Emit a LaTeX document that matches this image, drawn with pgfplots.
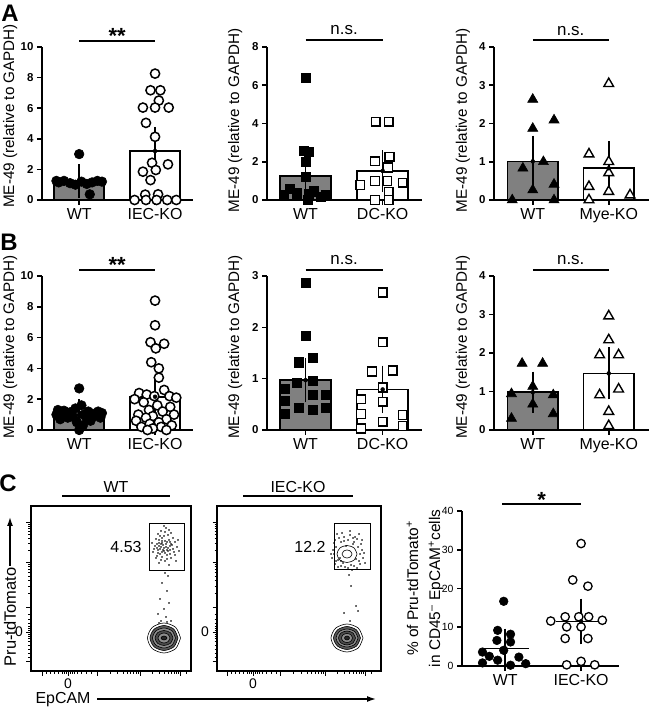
\documentclass[border=0pt]{standalone}
\usepackage{fontspec}
\setmainfont{Liberation Sans}
\usepackage{pgfplots}
\pgfplotsset{compat=1.18}
\usetikzlibrary{arrows.meta}
\newcommand{\fs}[1]{\fontsize{#1}{#1}\selectfont}

\pgfplotsset{
 prism/.style={scale only axis, clip=false, anchor=south west,
  axis x line*=bottom, axis y line*=left, axis line style={-, line width=1.6bp},
  ymin=0, xtick={0,1}, tick align=outside, major tick length=5bp,
  tick style={black, line width=1.6bp},
  /pgf/number format/assume math mode=true,
  yticklabel style={font=\fs{11.5}\bfseries},
  xticklabel style={font=\fs{16}},
  ylabel style={font=\fs{15.3}, anchor=center},
  ylabel={ME-49 (relative to GAPDH)},
 },
 sem/.style={only marks, mark=none, forget plot, error bars/.cd, y dir=both, y explicit,
   error bar style={draw=black, line width=1.6bp},
   error mark options={draw=black, line width=1.6bp, mark size=#1}},
 wtbar/.style={ybar, bar width=0.66, fill=gray, draw=black, line width=1.6bp, bar shift=0pt, forget plot},
 kobar/.style={ybar, bar width=0.66, fill=white, draw=black, line width=1.6bp, bar shift=0pt, forget plot},
 fcirc/.style={only marks, mark=*, mark size=4.8bp, mark options={fill=black, draw=black, line width=0.6bp}, forget plot},
 ocirc/.style={only marks, mark=*, mark size=4.6bp, mark options={fill=white, draw=black, line width=1.5bp}, forget plot},
 fsq/.style={only marks, mark=square*, mark size=4.6bp, mark options={fill=black, draw=black, line width=0.6bp}, forget plot},
 osq/.style={only marks, mark=square*, mark size=4.4bp, mark options={fill=white, draw=black, line width=1.5bp}, forget plot},
 ftri/.style={only marks, mark=triangle*, mark size=5.8bp, mark options={fill=black, draw=black, line width=0.6bp}, forget plot},
 otri/.style={only marks, mark=triangle*, mark size=5.6bp, mark options={fill=white, draw=black, line width=1.4bp}, forget plot},
 sig/.style={black, line width=1.6bp, forget plot},
 flow/.style={scale only axis, clip=false, anchor=south west, axis line style={line width=1.3bp},
  tick align=outside, tick pos=left, major tick length=4.5bp, minor tick length=2.5bp,
  tick style={black, line width=0.9bp}, minor tick style={line width=0.6bp},
  ymin=0, ymax=165, height=165bp, ticklabel style={font=\fs{14}},
  /pgf/number format/assume math mode=true,
  ytick={10,39,64,109,149}, yticklabels={,0,,,},
  minor ytick={14,18,22,26,30,33,35,37,41,43,45,48,52,57,78,85,91,95,99,102,105,107,121,128,133,137,140,143,145,147}},
 ring/.style={black, line width=0.6bp, smooth, forget plot},
 dots/.style={only marks, mark=*, mark size=0.5bp, black, forget plot},
 gate/.style={black, line width=0.8bp, sharp plot, forget plot},
}

\begin{document}
\begin{tikzpicture}
\useasboundingbox (0,0) rectangle (650bp,709bp);

% panel letters
\node[font=\fs{24}\bfseries] at (10bp,696bp) {A};
\node[font=\fs{24}\bfseries] at (9bp,467bp) {B};
\node[font=\fs{24}\bfseries] at (8bp,226bp) {C};

% ---------------- A1
\begin{axis}[prism, at={(42bp,509bp)}, width=151bp, height=153bp, xmin=-0.49, xmax=1.5, ymax=10,
  ytick={0,2,4,6,8,10}, xticklabels={WT,IEC-KO}, ylabel style={at={(axis description cs:-0.21,0.55)}}]
\addplot[wtbar] coordinates {(0,1.25)};
\addplot[kobar] coordinates {(1,3.2)};
\addplot[fcirc] coordinates {(0,3.0)(0.14,0.37)(-0.3,1.25)(-0.27,1.15)(-0.2,1.25)(-0.12,1.1)(-0.05,1.0)(0.03,1.2)(0.1,1.05)(0.17,1.15)(0.24,1.25)(0.3,1.2)};
\addplot[ocirc] coordinates {(1.0,8.26)(0.94,7.17)(1.07,7.17)(1.05,6.5)(0.84,6.04)(1.0,6.04)(1.18,6.04)(0.88,5.04)(1.0,4.13)(0.96,2.43)(1.17,2.33)(0.84,1.85)(1.01,1.96)(0.94,1.3)(0.87,0.35)(1.04,0.37)(0.73,0)(0.88,0)(1.02,0)(1.16,0)(1.28,0)};
\addplot[sem=14bp] coordinates {(0,1.25) +- (0,0.18) (1,3.2) +- (0,0.66)};
\addplot[sig] coordinates {(0,10.4)(1,10.4)};
\node[font=\fs{22}\bfseries, anchor=base] at (axis cs:0.5,10.4) [yshift=-3bp] {**};
\end{axis}

% ---------------- A2
\begin{axis}[prism, at={(267bp,509bp)}, width=155bp, height=153bp, xmin=-0.5, xmax=1.51, ymax=8,
  ytick={0,2,4,6,8}, xticklabels={WT,DC-KO}, ylabel style={at={(axis description cs:-0.206,0.52)}}]
\addplot[wtbar] coordinates {(0,1.25)};
\addplot[kobar] coordinates {(1,1.52)};
\addplot[fsq] coordinates {(0,6.4)(-0.02,2.56)(0.04,2.5)(0,2.0)(0,1.2)(-0.2,0.6)(-0.28,0.26)(-0.11,0.35)(0.04,0.3)(0.03,0)(0.2,0.17)(0.26,0.26)(0.11,0.45)};
\addplot[osq] coordinates {(0.91,4.09)(1.08,4.09)(0.9,2.03)(1.09,2.26)(1.07,1.7)(0.9,1.0)(1.06,1.0)(0.71,0.78)(1.26,0.9)(1.08,0.43)(0.9,0)(1.08,0)};
\addplot[sem=12.5bp] coordinates {(0,1.25) +- (0,0.5) (1,1.52) +- (0,0.43)};
\addplot[sig] coordinates {(0,8.37)(1,8.37)};
\node[font=\fs{17}, anchor=base] at (axis cs:0.5,8.37) [yshift=5bp] {n.s.};
\end{axis}

% ---------------- A3
\begin{axis}[prism, at={(494bp,509bp)}, width=155bp, height=153bp, xmin=-0.51, xmax=1.53, ymax=4,
  ytick={0,1,2,3,4}, xticklabels={WT,Mye-KO}, ylabel style={at={(axis description cs:-0.2,0.52)}}]
\addplot[wtbar] coordinates {(0,1.01)};
\addplot[kobar] coordinates {(1,0.83)};
\addplot[ftri] coordinates {(0,2.63)(0,1.87)(0.28,2.09)(0.14,1.0)(-0.13,0.83)(0,0.26)(0.28,0.41)(-0.27,0)(0.28,0)};
\addplot[otri] coordinates {(1,3.04)(0.74,1.2)(1,1.0)(1,0.71)(0.74,0.35)(1,0.22)(1.28,0.13)(0.74,0)};
\addplot[sem=13.5bp] coordinates {(0,1.01) +- (0,0.32) (1,0.83) +- (0,0.35)};
\addplot[sig] coordinates {(0,4.18)(1,4.18)};
\node[font=\fs{17}, anchor=base] at (axis cs:0.5,4.18) [yshift=5bp] {n.s.};
\end{axis}

% ---------------- B1
\begin{axis}[prism, at={(42bp,279bp)}, width=151bp, height=154bp, xmin=-0.49, xmax=1.5, ymax=10,
  ytick={0,2,4,6,8,10}, xticklabels={WT,IEC-KO}, ylabel style={at={(axis description cs:-0.21,0.54)}}]
\addplot[wtbar] coordinates {(0,1.0)};
\addplot[kobar] coordinates {(1,2.16)};
\addplot[fcirc] coordinates {(0,2.7)(0.03,1.6)(-0.05,1.4)(-0.28,1.3)(-0.2,1.25)(0.12,1.2)(0.25,1.2)(-0.12,1.15)(0.3,1.1)(0.18,1.05)(-0.3,1.0)(0.06,1.0)(-0.22,0.95)(0.2,0.9)(-0.08,0.85)(0.28,0.8)(-0.15,0.8)(0.1,0.75)(-0.25,0.7)(0.15,0.6)(-0.03,0.5)(0.05,0.3)(0,0.0)};
\addplot[ocirc] coordinates {(1,8.4)(1,6.8)(0.94,5.7)(1.12,5.6)(1.01,5.3)(0.95,4.4)(1.05,4.0)(1.05,3.4)(1.12,2.6)(0.79,2.4)(0.89,2.3)(0.99,2.2)(1.19,2.2)(1.28,2.1)(0.73,2.0)(0.85,1.8)(1.03,1.6)(1.2,1.5)(0.92,1.3)(1.1,1.2)(0.78,1.0)(1.25,1.0)(0.97,0.9)(0.88,0.8)(1.15,0.7)(0.75,0.6)(1.05,0.5)(0.93,0.4)(1.22,0.3)(0.82,0.2)(1.08,0.2)(0.97,0.1)(0.9,0.0)(1.15,0.0)};
\addplot[sem=14bp] coordinates {(0,1.0) +- (0,0.1) (1,2.16) +- (0,0.35)};
\addplot[sig] coordinates {(0,10.39)(1,10.39)};
\node[font=\fs{22}\bfseries, anchor=base] at (axis cs:0.5,10.39) [yshift=-3bp] {**};
\end{axis}

% ---------------- B2
\begin{axis}[prism, at={(267bp,279bp)}, width=155bp, height=154bp, xmin=-0.5, xmax=1.51, ymax=3,
  ytick={0,1,2,3}, xticklabels={WT,DC-KO}, ylabel style={at={(axis description cs:-0.206,0.54)}}]
\addplot[wtbar] coordinates {(0,0.97)};
\addplot[kobar] coordinates {(1,0.79)};
\addplot[fsq] coordinates {(0,2.86)(0,1.84)(-0.09,1.32)(0.09,1.40)(-0.11,0.92)(0.09,0.96)(-0.27,0.8)(0.27,0.68)(-0.27,0.57)(0.09,0.68)(-0.09,0.44)(0.09,0.40)(0.27,0.44)(-0.27,0.31)};
\addplot[osq] coordinates {(1,2.68)(1,1.71)(0.86,1.14)(1.13,1.16)(1,0.83)(1,0.55)(0.72,0.6)(0.72,0.31)(1.26,0.29)(1,0.16)(0.72,0.03)(1.26,0.08)};
\addplot[sem=13bp] coordinates {(0,0.97) +- (0,0.18) (1,0.79) +- (0,0.21)};
\addplot[sig] coordinates {(0,3.12)(1,3.12)};
\node[font=\fs{17}, anchor=base] at (axis cs:0.5,3.12) [yshift=5bp] {n.s.};
\end{axis}

% ---------------- B3
\begin{axis}[prism, at={(494bp,279bp)}, width=155bp, height=154bp, xmin=-0.51, xmax=1.53, ymax=4,
  ytick={0,1,2,3,4}, xticklabels={WT,Mye-KO}, ylabel style={at={(axis description cs:-0.2,0.54)}}]
\addplot[wtbar] coordinates {(0,0.98)};
\addplot[kobar] coordinates {(1,1.47)};
\addplot[ftri] coordinates {(-0.14,1.73)(0.13,1.73)(0,1.13)(-0.28,0.94)(0.27,0.91)(0,0.67)(-0.28,0.3)(0.27,0.42)};
\addplot[otri] coordinates {(1,2.96)(1,2.34)(0.88,1.95)(1.13,1.95)(1.13,1.06)(0.88,0.91)(1,0.48)(1,0.11)};
\addplot[sem=13bp] coordinates {(0,0.98) +- (0,0.2) (1,1.47) +- (0,0.34)};
\addplot[sig] coordinates {(0,4.16)(1,4.16)};
\node[font=\fs{17}, anchor=base] at (axis cs:0.5,4.16) [yshift=5bp] {n.s.};
\end{axis}

% ---------------- C1 flow WT
\node[font=\fs{16}] at (116bp,222bp) {WT};
\draw[line width=1.8bp] (62bp,213bp) -- (170bp,213bp);
\begin{axis}[flow, at={(31bp,38bp)}, width=160bp, xmin=0, xmax=160,
  xtick={11,37,66,109,149}, xticklabels={,0,,,},
  minor xtick={15,19,23,27,31,33,35,39,41,43,46,50,55,60,79,86,92,96,99,102,105,107,121,128,133,137,140,143,145,147,155}]
\addplot[gate] coordinates {(118,101)(153,101)(153,148)(118,148)(118,101)};
\node[font=\fs{16}] at (axis cs:95,124) {4.53};
\addplot[dots] coordinates {(130,140)(135,143)(127,137)(140,138)(133,135)(125,132)(138,131)(131,130)(144,129)(128,128)(135,127)(141,126)(124,125)(130,124)(137,123)(146,124)(127,121)(133,120)(139,121)(122,119)(143,119)(129,117)(136,116)(131,114)(125,113)(140,113)(134,110)(128,108)(145,110)(138,106)(132,126)(136,129)(129,122)(142,122)(126,127)(134,118)(139,117)(131,133)(137,136)(148,120)(121,128)(133,145)(138,141)(126,115)(130,111)(142,133)(135,124)(128,131)(140,127)(132,121)(147,131)(123,122)(136,112)(129,135)(144,116)(134,139)(127,118)(139,125)(131,128)(137,120)(133,123)(130,127)(136,121)(128,125)(134,130)(131,119)(139,129)(126,123)(134,98)(137,95)(131,88)(136,80)(129,72)(138,68)(133,62)(127,57)(135,54)(140,50)(130,50)(136,49)(128,48)};
\addplot[ring] coordinates {(149.5,33)(144.7,43.6)(133,48)(121.3,43.6)(116.5,33)(121.3,22.4)(133,18)(144.7,22.4)(149.5,33)};
\addplot[ring, fill=black!65] coordinates {(147,33)(142.9,41.8)(133,45.5)(123.1,41.8)(119,33)(123.1,24.2)(133,20.5)(142.9,24.2)(147,33)};
\addplot[ring, fill=black!45] coordinates {(144.5,33)(141.1,40.1)(133,43)(124.9,40.1)(121.5,33)(124.9,25.9)(133,23)(141.1,25.9)(144.5,33)};
\addplot[ring, fill=black!70] coordinates {(142,33)(139.4,38.3)(133,40.5)(126.6,38.3)(124,33)(126.6,27.7)(133,25.5)(139.4,27.7)(142,33)};
\addplot[ring, fill=black!45] coordinates {(139,33)(137.2,36.5)(133,38)(128.8,36.5)(127,33)(128.8,29.5)(133,28)(137.2,29.5)(139,33)};
\addplot[ring, fill=black!85] coordinates {(136,33)(135.1,34.4)(133,35)(130.9,34.4)(130,33)(130.9,31.6)(133,31)(135.1,31.6)(136,33)};
\end{axis}

% ---------------- C2 flow IEC-KO
\node[font=\fs{16}] at (298bp,222bp) {IEC-KO};
\draw[line width=1.8bp] (243bp,213bp) -- (353bp,213bp);
\begin{axis}[flow, at={(217bp,38bp)}, width=164bp, xmin=0, xmax=164,
  xtick={10,36,63,108,148}, xticklabels={,0,,,},
  minor xtick={14,18,22,26,30,32,34,38,40,42,45,49,54,59,76,84,90,94,98,101,104,106,120,127,132,136,139,142,144,146,154}]
\addplot[gate] coordinates {(117,102)(153,102)(153,148)(117,148)(117,102)};
\node[font=\fs{16}] at (axis cs:93,124) {12.2};
\addplot[dots] coordinates {(143,117)(141,124)(137,129)(131,131)(124,129)(119,124)(117,117)(119,110)(124,105)(131,103)(137,105)(142,110)(145,121)(140,132)(127,134)(117,128)(115,113)(121,104)(135,101)(146,113)(144,127)(133,136)(122,133)(116,121)(118,107)(128,104)(140,103)(147,118)(138,134)(125,138)(120,137)(142,137)(148,108)(114,117)(133,140)(126,108)(136,127)(123,113)(139,112)(129,125)(143,107)(145,131)(121,111)(118,131)(127,130)(134,106)(136,133)(124,110)(132,96)(134,85)(139,65)(141,60)(127,58)(133,50)};
\addplot[ring] coordinates {(140,117)(137.1,123)(130,125.5)(122.9,123)(120,117)(122.9,111)(130,108.5)(137.1,111)(140,117)};
\addplot[ring] coordinates {(135,117)(133.5,119.8)(130,121)(126.5,119.8)(125,117)(126.5,114.2)(130,113)(133.5,114.2)(135,117)};
\addplot[ring] coordinates {(146,33)(141.3,42.9)(130,47)(118.7,42.9)(114,33)(118.7,23.1)(130,19)(141.3,23.1)(146,33)};
\addplot[ring, fill=black!65] coordinates {(143.5,33)(139.5,41.1)(130,44.5)(120.5,41.1)(116.5,33)(120.5,24.9)(130,21.5)(139.5,24.9)(143.5,33)};
\addplot[ring, fill=black!45] coordinates {(141,33)(137.8,39.4)(130,42)(122.2,39.4)(119,33)(122.2,26.6)(130,24)(137.8,26.6)(141,33)};
\addplot[ring, fill=black!70] coordinates {(138.5,33)(136,38)(130,40)(124,38)(121.5,33)(124,28)(130,26)(136,28)(138.5,33)};
\addplot[ring, fill=black!45] coordinates {(135.5,33)(133.9,36.2)(130,37.5)(126.1,36.2)(124.5,33)(126.1,29.8)(130,28.5)(133.9,29.8)(135.5,33)};
\addplot[ring, fill=black!85] coordinates {(132.5,33)(131.8,34.4)(130,35)(128.2,34.4)(127.5,33)(128.2,31.6)(130,31)(131.8,31.6)(132.5,33)};
\end{axis}

% flow axis labels
\node[font=\fs{16.5}, rotate=90] at (10bp,92bp) {Pru-tdTomato};
\draw[line width=1.4bp, -{Latex[length=9bp,width=6bp]}] (10bp,143bp) -- (10bp,192bp);
\node[font=\fs{16}, inner sep=1bp] at (63bp,9bp) {EpCAM};
\draw[line width=1.4bp, -{Latex[length=9bp,width=6bp]}] (97bp,10bp) -- (376bp,10bp);

% ---------------- C3
\begin{axis}[prism, at={(462bp,43bp)}, width=157bp, height=155bp, xmin=-0.57, xmax=1.5, ymax=40,
  ytick={0,10,20,30,40}, xticklabels={WT,IEC-KO}, yticklabel style={font=\fs{10.5}\mdseries},
  ylabel={\% of Pru-tdTomato\textsuperscript{+}\\in CD45\textsuperscript{--} EpCAM\textsuperscript{+}cells},
  ylabel style={at={(axis description cs:-0.236,0.5)}, align=center, font=\fontsize{15.5}{22}\selectfont}]
\addplot[only marks, mark=*, mark size=4.3bp, mark options={fill=black, draw=black, line width=0.6bp}, forget plot] coordinates {(-0.02,16.7)(-0.1,9.2)(0.07,8.2)(-0.11,6.6)(0.07,6.2)(-0.3,3.6)(-0.21,2.5)(-0.02,4.05)(0.18,2.3)(-0.3,0.8)(-0.1,1.5)(0.07,0.2)(0.27,0.6)};
\addplot[only marks, mark=*, mark size=4.2bp, mark options={fill=white, draw=black, line width=1.3bp}, forget plot] coordinates {(1,31.6)(0.89,22.2)(1.09,20.6)(0.6,11.6)(0.79,12.7)(0.97,12.7)(1.1,12.7)(1.28,11.8)(0.81,10.1)(1,10.1)(0.79,7.1)(1.09,7.1)(0.81,0.3)(1,1.2)(1.18,0.3)};
\addplot[sig] coordinates {(-0.31,4.5)(0.31,4.5)};
\addplot[sig] coordinates {(0.67,11.5)(1.33,11.5)};
\addplot[sem=14bp] coordinates {(0,4.5) +- (0,1.5) (1,11.5) +- (0,2.3)};
\addplot[sig] coordinates {(-0.04,41.8)(1,41.8)};
\node[font=\fs{22}\bfseries, anchor=base] at (axis cs:0.48,41.8) [yshift=-3bp] {*};
\end{axis}
\end{tikzpicture}
\end{document}
